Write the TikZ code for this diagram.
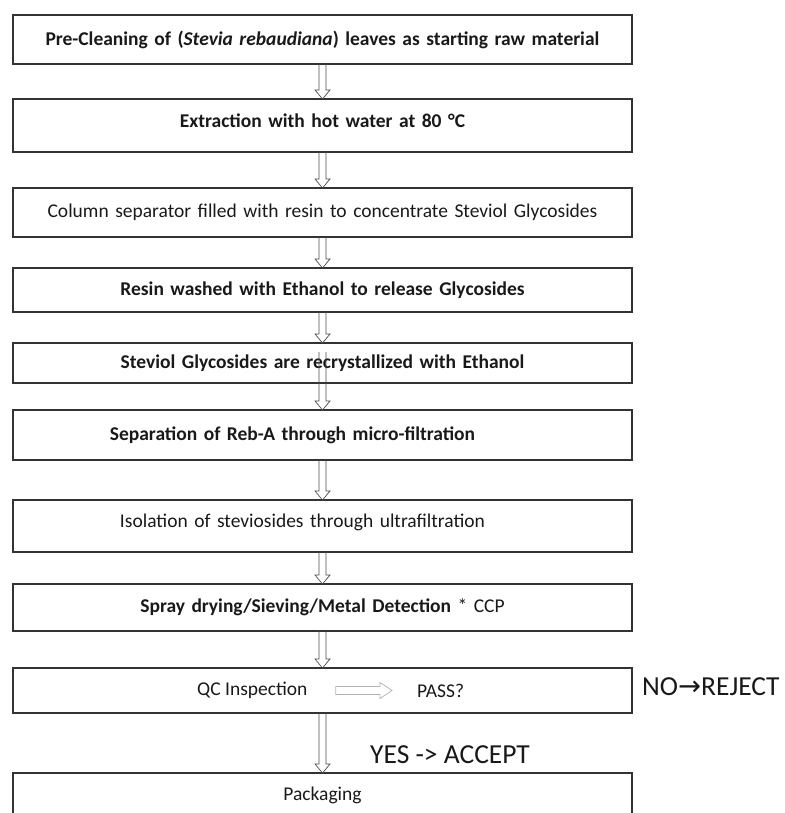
\documentclass[tikz,border=0pt]{standalone}
\usepackage{fontspec}
\setmainfont{Carlito}
\newfontfamily\arrowfont{DejaVu Sans}
\usetikzlibrary{positioning, calc}
\tikzstyle{stepbox} = [rectangle, draw=black!80, line width=1.1pt, outer sep=0pt, text width=619pt, inner xsep=0pt, inner ysep=0pt, align=center, text=black!90, font=\fontsize{19.5}{22}\selectfont]
\tikzstyle{plaintext} = [inner sep=0pt, text=black!90, font=\fontsize{19.5}{22}\selectfont]
\tikzstyle{verdict} = [inner sep=0pt, text=black!90, font=\fontsize{27.5}{32}\selectfont]
\tikzstyle{flow} = [draw=black!70, line width=0.7pt, to path={let \p1=(\tikztostart), \p2=(\tikztotarget) in
  (\x1-3.5pt,\y1) -- (\x1-3.5pt,\y2+9pt) -- (\x1-7.5pt,\y2+9pt) -- (\x1,\y2) -- (\x1+7.5pt,\y2+9pt) -- (\x1+3.5pt,\y2+9pt) -- (\x1+3.5pt,\y1)}]
\tikzstyle{sideflow} = [draw=black!30, line width=0.7pt, to path={let \p1=(\tikztostart), \p2=(\tikztotarget) in
  (\x1,\y1+4pt) -- (\x2-12pt,\y1+4pt) -- (\x2-12pt,\y1+8pt) -- (\x2,\y1) -- (\x2-12pt,\y1-8pt) -- (\x2-12pt,\y1-4pt) -- (\x1,\y1-4pt) -- cycle}]

\begin{document}
\begin{tikzpicture}[x=1pt, y=1pt]
  \useasboundingbox (0,0) rectangle (784,-813);

  \node (precleaning) [stepbox, minimum height=49pt] at (322.5,-39.5) {\bfseries Pre-Cleaning of (\textit{Stevia rebaudiana}) leaves as starting raw material};
  \node (extraction) [stepbox, minimum height=53pt, below=35pt of precleaning] {\raisebox{10pt}{\bfseries Extraction with hot water at 80~°C}};
  \node (column) [stepbox, minimum height=49pt, below=36pt of extraction] {Column separator filled with resin to concentrate Steviol Glycosides};
  \node (resinwash) [stepbox, minimum height=44pt, below=31pt of column] {\bfseries Resin washed with Ethanol to release Glycosides};
  \node (recryst) [stepbox, minimum height=40pt, below=31pt of resinwash] {\bfseries Steviol Glycosides are recrystallized with Ethanol};
  \node (rebsep) [stepbox, minimum height=50pt, below=27pt of recryst] {\bfseries Separation of Reb-A through micro-filtration\hspace*{60pt}};
  \node (isolation) [stepbox, minimum height=52pt, below=40pt of rebsep] {\raisebox{10pt}{Isolation of steviosides through ultrafiltration}\hspace*{40pt}};
  \node (spray) [stepbox, minimum height=47pt, below=32pt of isolation] {\bfseries Spray drying/Sieving/Metal Detection {\mdseries * CCP}};
  \node (qc) [stepbox, minimum height=45pt, below=37pt of spray] {};
  \node (packaging) [stepbox, minimum height=45pt, below=60pt of qc] {Packaging};

  \node (qctext) [plaintext, anchor=west] at ([xshift=184pt]qc.west) {QC Inspection};
  \node (pass) [plaintext, anchor=west] at ([xshift=404pt]qc.west) {PASS?};
  \node (reject) [verdict, right=10pt of qc.east, yshift=4pt] {NO{\arrowfont →}REJECT};
  \node (accept) [verdict, anchor=west] at ([xshift=47.5pt, yshift=-42pt]qc.south) {YES -> ACCEPT};

  \draw [flow] (precleaning.south) to (extraction.north);
  \draw [flow] (extraction.south) to (column.north);
  \draw [flow] (column.south) to (resinwash.north);
  \draw [flow] (resinwash.south) to (recryst.north);
  \draw [flow] ([yshift=-9pt]recryst.north) to (rebsep.north);
  \draw [flow] (rebsep.south) to (isolation.north);
  \draw [flow] (isolation.south) to (spray.north);
  \draw [flow] (spray.south) to (qc.north);
  \draw [flow] (qc.south) to (packaging.north);
  \draw [sideflow] ([xshift=28pt]qctext.east) to ([xshift=-25pt]pass.west);

\end{tikzpicture}
\end{document}
